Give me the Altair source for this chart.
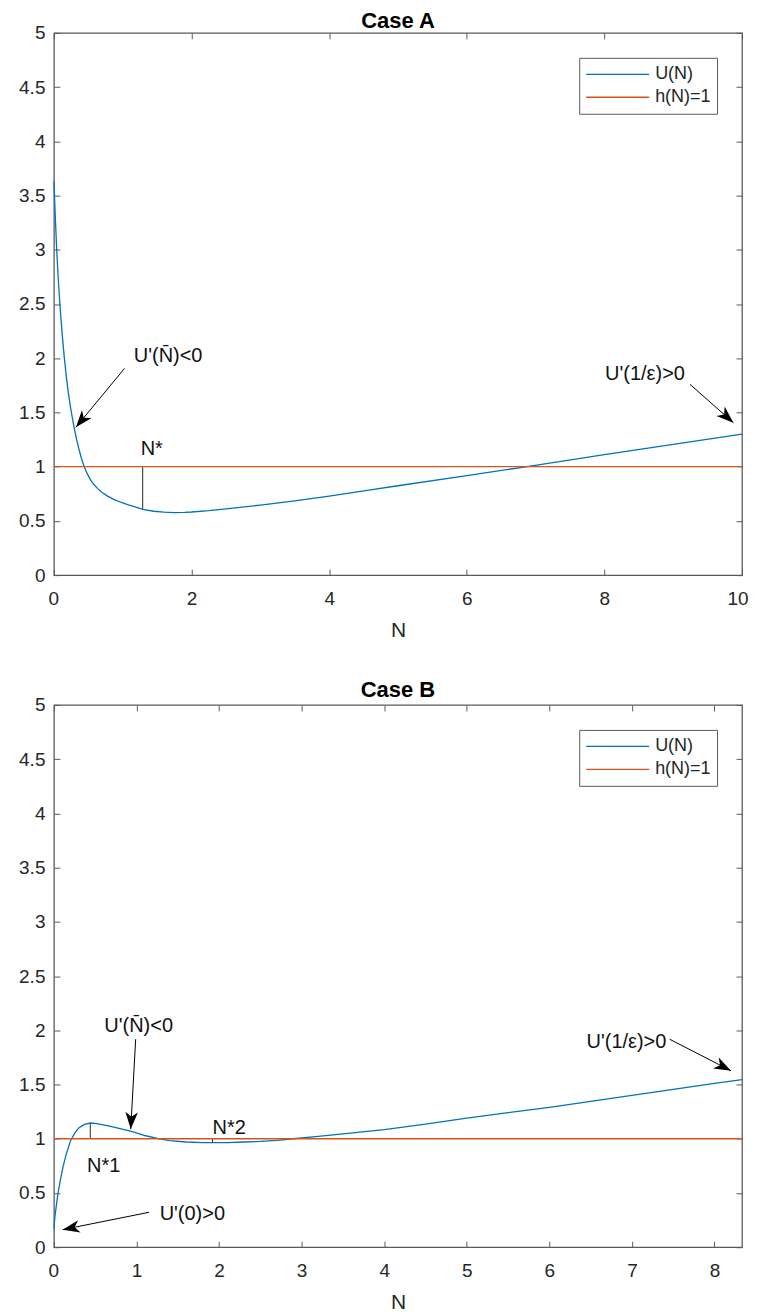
import math
import altair as alt
import pandas as pd

# ---------------- data ----------------
# Case A : U(N)
N_A = [0, 0.02, 0.04, 0.06, 0.08, 0.10, 0.12, 0.15, 0.18, 0.21, 0.24, 0.27, 0.30, 0.33,
       0.36, 0.40, 0.44, 0.48, 0.53, 0.58, 0.64, 0.70, 0.78, 0.87, 0.97, 1.07, 1.18, 1.29,
       1.45, 1.60, 1.75, 1.90, 2.0, 2.25, 2.5, 3.0, 3.5, 4.0, 4.6, 5.0, 6.0, 6.9, 8.0, 9.0, 10.0]
U_A = [3.63, 3.30, 3.00, 2.76, 2.56, 2.38, 2.22, 2.01, 1.83, 1.68, 1.55, 1.44, 1.34, 1.25,
       1.17, 1.075, 1.00, 0.94, 0.88, 0.835, 0.795, 0.762, 0.728, 0.698, 0.672, 0.650, 0.630, 0.607,
       0.589, 0.580, 0.577, 0.579, 0.582, 0.594, 0.610, 0.646, 0.685, 0.728, 0.786, 0.824, 0.918,
       1.002, 1.11, 1.205, 1.30]

# Case B : U(N)
N_B = [0, 0.01, 0.025, 0.05, 0.08, 0.11, 0.15, 0.20, 0.25, 0.30, 0.37, 0.44, 0.52, 0.60,
       0.70, 0.80, 0.95, 1.10, 1.25, 1.40, 1.60, 1.80, 1.95, 2.10, 2.30, 2.50, 2.70, 2.90,
       3.2, 3.5, 4.0, 4.5, 5.0, 5.5, 6.0, 6.5, 7.0, 7.5, 8.0, 8.333]
U_B = [0.17, 0.27, 0.36, 0.50, 0.63, 0.74, 0.86, 0.98, 1.05, 1.10, 1.133, 1.145, 1.14, 1.128,
       1.112, 1.094, 1.065, 1.03, 1.003, 0.982, 0.970, 0.965, 0.964, 0.965, 0.970, 0.976, 0.986, 1.0,
       1.022, 1.045, 1.085, 1.135, 1.19, 1.24, 1.29, 1.345, 1.40, 1.455, 1.51, 1.545]

H_LEVEL = 1.0
SERIES = ["U(N)", "h(N)=1"]
XMAX_A = 10.0
XMAX_B = 8.333
YMAX = 5.0
XTICKS_A = [0, 2, 4, 6, 8, 10]
XTICKS_B = [0, 1, 2, 3, 4, 5, 6, 7, 8]
YTICKS = [0, 0.5, 1, 1.5, 2, 2.5, 3, 3.5, 4, 4.5, 5]

# annotations, Case A
A_TEXT = ["U'(N\u0304)<0", "N*", "U'(1/\u03b5)>0"]
A_TEXT_X = [1.16, 1.26, 8.01]
A_TEXT_Y = [2.02, 1.16, 1.85]
A_ARROW_X = [1.026, 9.245]
A_ARROW_Y = [1.906, 1.759]
A_ARROW_X2 = [0.319, 9.874]
A_ARROW_Y2 = [1.363, 1.406]
A_MARK_X = [1.29]
A_MARK_Y = [0.607]
A_MARK_Y2 = [1.0]

# annotations, Case B
B_TEXT = ["U'(N\u0304)<0", "N*1", "N*2", "U'(0)>0", "U'(1/\u03b5)>0"]
B_TEXT_X = [0.61, 0.40, 1.92, 1.28, 6.45]
B_TEXT_Y = [2.04, 0.75, 1.10, 0.307, 1.888]
B_ARROW_X = [0.99, 1.152, 7.456]
B_ARROW_Y = [1.918, 0.322, 1.918]
B_ARROW_X2 = [0.93, 0.105, 8.20]
B_ARROW_Y2 = [1.089, 0.162, 1.627]
B_MARK_X = [0.44, 1.92]
B_MARK_Y = [1.0, 0.964]
B_MARK_Y2 = [1.145, 1.0]

# ---------------- styling ----------------
W, H = 689, 543
BLUE = "#0072BD"
ORANGE = "#D95319"
FRAME = "#5a5a5a"
INK = "#262626"
FONT = "Liberation Sans"
TICK = 6
ARROW_PATH = "M0,0 L0.55,1.5 L0,1.08 L-0.55,1.5 Z"


def head_angle(x1, y1, x2, y2, kx, ky):
    dx = (x2 - x1) * kx
    dy = -(y2 - y1) * ky
    return math.degrees(math.atan2(dx, -dy)) % 360


def panel(title, title_offset, n, u, xmax, xticks, texts, tx, ty, ax1, ay1, ax2, ay2,
          mx, my, my2):
    xs = alt.Scale(domain=[0, xmax], nice=False, zero=False)
    ys = alt.Scale(domain=[0, YMAX], nice=False)

    curve = pd.DataFrame({
        "N": list(n) + [0, xmax],
        "U": list(u) + [H_LEVEL, H_LEVEL],
        "series": [SERIES[0]] * len(n) + [SERIES[1]] * 2,
    })
    lines = alt.Chart(curve).mark_line(strokeWidth=1.3).encode(
        x=alt.X("N:Q", scale=xs, title="N",
                axis=alt.Axis(values=xticks, format="d", orient="bottom", offset=-TICK,
                              tickSize=TICK, labelPadding=14, titlePadding=11, domain=False,
                              grid=False, labelFlush=True, labelFlushOffset=6)),
        y=alt.Y("U:Q", scale=ys, title=None,
                axis=alt.Axis(values=YTICKS, format=".1~f", orient="left", offset=-TICK,
                              tickSize=TICK, labelPadding=9, domain=False, grid=False,
                              labelFlush=False)),
        color=alt.Color("series:N",
                        scale=alt.Scale(domain=SERIES, range=[BLUE, ORANGE]),
                        legend=alt.Legend(title=None, orient="top-right", offset=25,
                                          padding=6, strokeColor=FRAME, fillColor="white",
                                          symbolType="stroke", symbolSize=3969,
                                          symbolStrokeWidth=1.3, clipHeight=21,
                                          rowPadding=2, labelFontSize=18, labelOffset=5,
                                          labelColor=INK, labelFont=FONT)),
    )

    segs = pd.DataFrame({"x": mx, "y": my, "y2": my2})
    marks = alt.Chart(segs).mark_rule(color=INK, strokeWidth=1).encode(
        x=alt.X("x:Q", scale=xs, title=None,
                axis=alt.Axis(values=xticks, orient="top", offset=-TICK, tickSize=TICK,
                              labels=False, domain=False, grid=False)),
        y=alt.Y("y:Q", scale=ys, title=None,
                axis=alt.Axis(values=YTICKS, orient="right", offset=-TICK, tickSize=TICK,
                              labels=False, domain=False, grid=False)),
        y2="y2:Q",
    )

    kx, ky = W / xmax, H / YMAX
    arr = pd.DataFrame({"x": ax1, "y": ay1, "x2": ax2, "y2": ay2})
    arr["ang"] = [head_angle(a, b, c, d, kx, ky) for a, b, c, d in zip(ax1, ay1, ax2, ay2)]
    shafts = alt.Chart(arr).mark_rule(color="black", strokeWidth=1).encode(
        x=alt.X("x:Q", scale=xs, axis=None),
        y=alt.Y("y:Q", scale=ys, axis=None),
        x2="x2:Q", y2="y2:Q",
    )
    heads = alt.Chart(arr).mark_point(shape=ARROW_PATH, filled=True, size=520,
                                      color="black", opacity=1, strokeWidth=0).encode(
        x=alt.X("x2:Q", scale=xs, axis=None),
        y=alt.Y("y2:Q", scale=ys, axis=None),
        angle=alt.Angle("ang:Q", scale=None),
    )

    tdf = pd.DataFrame({"x": tx, "y": ty, "t": texts})
    labels = alt.Chart(tdf).mark_text(align="left", baseline="middle", fontSize=20,
                                      font=FONT, color="#111111").encode(
        x=alt.X("x:Q", scale=xs, axis=None),
        y=alt.Y("y:Q", scale=ys, axis=None),
        text="t:N",
    )

    return alt.layer(marks, lines, shafts, heads, labels).properties(
        width=W, height=H, title=alt.TitleParams(text=title, offset=title_offset))


pA = panel("Case A", -9, N_A, U_A, XMAX_A, XTICKS_A, A_TEXT, A_TEXT_X, A_TEXT_Y,
           A_ARROW_X, A_ARROW_Y, A_ARROW_X2, A_ARROW_Y2, A_MARK_X, A_MARK_Y, A_MARK_Y2)
pB = panel("Case B", -6, N_B, U_B, XMAX_B, XTICKS_B, B_TEXT, B_TEXT_X, B_TEXT_Y,
           B_ARROW_X, B_ARROW_Y, B_ARROW_X2, B_ARROW_Y2, B_MARK_X, B_MARK_Y, B_MARK_Y2)

chart = alt.vconcat(pA, pB, spacing=37).resolve_scale(color="independent").resolve_legend(
    color="independent"
).properties(
    padding={"top": 0, "left": 9, "right": 0, "bottom": 0}
).configure(
    font=FONT, background="white"
).configure_view(
    stroke=FRAME, strokeWidth=1.3
).configure_axis(
    labelFont=FONT, labelFontSize=19, labelColor=INK, tickColor=FRAME, tickWidth=1,
    titleFont=FONT, titleFontSize=21, titleFontWeight="normal", titleColor=INK,
).configure_title(
    font=FONT, fontSize=22, fontWeight="bold", color="black",
    anchor="middle", frame="group"
)

chart.save("out.html", embed_options={"renderer": "svg", "actions": False})
